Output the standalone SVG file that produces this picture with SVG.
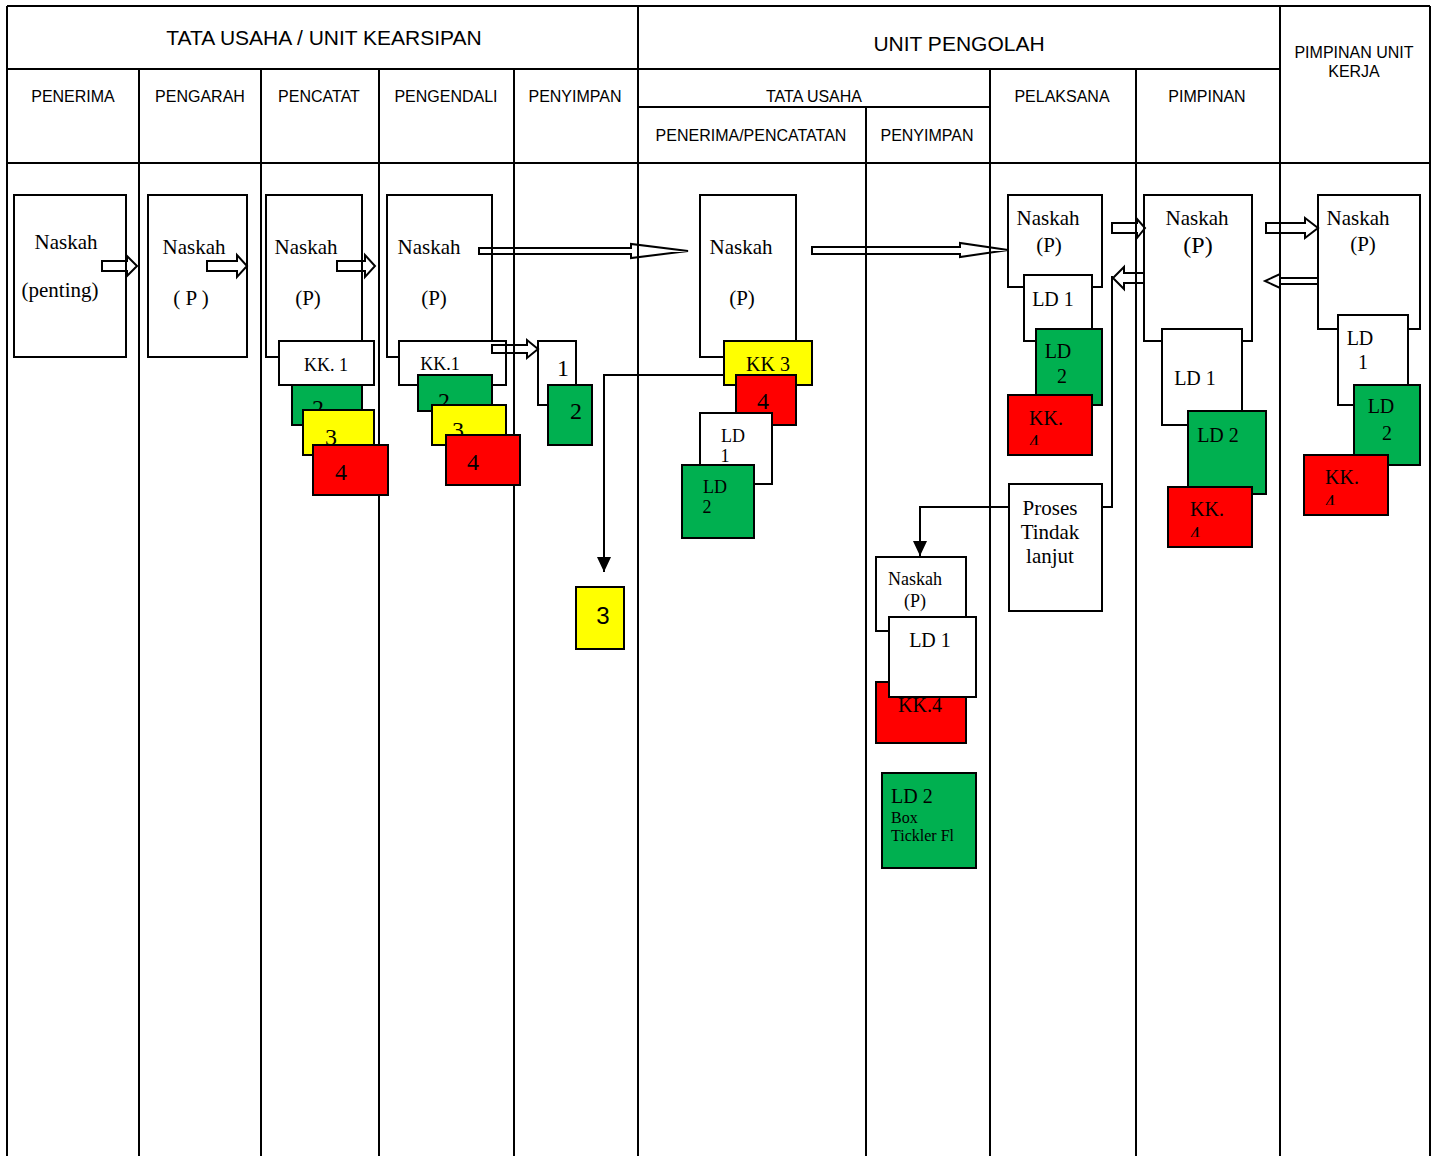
<svg xmlns="http://www.w3.org/2000/svg" width="1438" height="1156" viewBox="0 0 1438 1156">
<style>
.ln{stroke:#000;stroke-width:2;fill:none}
.bx{stroke:#000;stroke-width:2;fill:#fff}
.g{fill:#00B050}
.y{fill:#FFFF00}
.r{fill:#FF0000}
.ba{stroke:#000;stroke-width:2;fill:none;stroke-linejoin:miter}
.cn{stroke:#000;stroke-width:2;fill:none}
text{fill:#000}
.h1{font-family:"Liberation Sans",Arial,sans-serif;font-size:21px;text-anchor:middle}
.h2{font-family:"Liberation Sans",Arial,sans-serif;font-size:16px;text-anchor:middle}
.t{font-family:"Liberation Serif","Times New Roman",serif;font-size:21px;text-anchor:middle}
.tl{font-family:"Liberation Serif","Times New Roman",serif;font-size:20px;text-anchor:middle}
.ts{font-family:"Liberation Serif","Times New Roman",serif;font-size:18px;text-anchor:middle}
.tb{font-family:"Liberation Serif","Times New Roman",serif;font-size:24px;text-anchor:middle}
.st{text-anchor:start}
.sn{font-family:"Liberation Sans",Arial,sans-serif;font-size:24px;text-anchor:middle}
</style>
<defs>
<marker id="ah" markerUnits="userSpaceOnUse" markerWidth="16" markerHeight="14" refX="15" refY="7" orient="auto">
<path d="M0,0 L15,7 L0,14 z" fill="#000"/>
</marker>
<clipPath id="c4a"><rect x="1008" y="395" width="84" height="50"/></clipPath>
<clipPath id="c4b"><rect x="1168" y="487" width="84" height="50"/></clipPath>
<clipPath id="c4c"><rect x="1304" y="455" width="84" height="50"/></clipPath>
</defs>
<rect x="0" y="0" width="1438" height="1156" fill="#fff"/>
<g id="grid">
<path class="ln" d="M7,6 H1430 M7,69 H1280 M638,107 H990 M7,163 H1430 M7,6 V1156 M1430,6 V1156 M139,69 V1156 M261,69 V1156 M379,69 V1156 M514,69 V1156 M638,6 V1156 M866,107 V1156 M990,69 V1156 M1136,69 V1156 M1280,6 V1156"/>
<text class="h1" x="324" y="45">TATA USAHA / UNIT KEARSIPAN</text>
<text class="h1" x="959" y="51">UNIT PENGOLAH</text>
<text class="h2" x="1354" y="58">PIMPINAN UNIT</text>
<text class="h2" x="1354" y="77">KERJA</text>
<text class="h2" x="73" y="102">PENERIMA</text>
<text class="h2" x="200" y="102">PENGARAH</text>
<text class="h2" x="319" y="102">PENCATAT</text>
<text class="h2" x="446" y="102">PENGENDALI</text>
<text class="h2" x="575" y="102">PENYIMPAN</text>
<text class="h2" x="814" y="102">TATA USAHA</text>
<text class="h2" x="1062" y="102">PELAKSANA</text>
<text class="h2" x="1207" y="102">PIMPINAN</text>
<text class="h2" x="751" y="141">PENERIMA/PENCATATAN</text>
<text class="h2" x="927" y="141">PENYIMPAN</text>
</g>
<g id="n-penerima">
<rect class="bx" x="14" y="195" width="112" height="162"/>
<text class="t" x="66" y="249">Naskah</text>
<text class="t" x="60" y="297">(penting)</text>
</g>
<g id="n-pengarah">
<rect class="bx" x="148" y="195" width="99" height="162"/>
<text class="t" x="194" y="254">Naskah</text>
<text class="t" x="191" y="305">( P )</text>
</g>
<g id="n-pencatat">
<rect class="bx" x="266" y="195" width="96" height="162"/>
<text class="t" x="306" y="254">Naskah</text>
<text class="t" x="308" y="305">(P)</text>
<rect class="bx" x="279" y="341" width="95" height="44"/>
<text class="ts" x="326" y="371">KK. 1</text>
<rect class="bx g" x="292" y="385" width="70" height="40"/>
<text class="tb" x="318" y="416">2</text>
<rect class="bx y" x="303" y="410" width="71" height="45"/>
<text class="tb" x="331" y="445">3</text>
<rect class="bx r" x="313" y="445" width="75" height="50"/>
<text class="tb" x="341" y="480">4</text>
</g>
<g id="n-pengendali">
<rect class="bx" x="387" y="195" width="105" height="162"/>
<text class="t" x="429" y="254">Naskah</text>
<text class="t" x="434" y="305">(P)</text>
<rect class="bx" x="399" y="341" width="107" height="44"/>
<text class="ts" x="440" y="370">KK.1</text>
<rect class="bx g" x="418" y="375" width="74" height="36"/>
<text class="tb" x="444" y="409">2</text>
<rect class="bx y" x="432" y="405" width="74" height="40"/>
<text class="tb" x="458" y="438">3</text>
<rect class="bx r" x="446" y="435" width="74" height="50"/>
<text class="tb" x="473" y="470">4</text>
</g>
<g id="n-penyimpan">
<rect class="bx" x="538" y="341" width="38" height="64"/>
<text class="tb" x="563" y="376">1</text>
<rect class="bx g" x="548" y="385" width="44" height="60"/>
<text class="tb" x="576" y="419">2</text>
</g>
<g id="n-arsip-3">
<rect class="bx y" x="576" y="587" width="48" height="62"/>
<text class="sn" x="603" y="624">3</text>
</g>
<g id="n-tu-penerima">
<rect class="bx" x="700" y="195" width="96" height="162"/>
<text class="t" x="741" y="254">Naskah</text>
<text class="t" x="742" y="305">(P)</text>
<rect class="bx y" x="724" y="341" width="88" height="44"/>
<text class="tl" x="768" y="371">KK 3</text>
<rect class="bx r" x="736" y="375" width="60" height="50"/>
<text class="tb" x="763" y="409">4</text>
<rect class="bx" x="700" y="413" width="72" height="71"/>
<text class="ts" x="733" y="442">LD</text>
<text class="ts" x="725" y="462">1</text>
<rect class="bx g" x="682" y="465" width="72" height="73"/>
<text class="ts" x="715" y="493">LD</text>
<text class="ts" x="707" y="513">2</text>
</g>
<g id="n-tu-penyimpan">
<rect class="bx" x="876" y="557" width="90" height="74"/>
<text class="ts" x="915" y="585">Naskah</text>
<text class="ts" x="915" y="607">(P)</text>
<rect class="bx r" x="876" y="682" width="90" height="61"/>
<text class="tl" x="920" y="712">KK.4</text>
<rect class="bx" x="889" y="617" width="87" height="80"/>
<text class="tl" x="930" y="647">LD 1</text>
<rect class="bx g" x="882" y="773" width="94" height="95"/>
<text class="tl st" x="891" y="803">LD 2</text>
<text class="ts st" x="891" y="823" style="font-size:16px">Box</text>
<text class="ts st" x="891" y="841" style="font-size:16px">Tickler Fl</text>
</g>
<g id="n-pelaksana">
<rect class="bx" x="1008" y="195" width="94" height="92"/>
<text class="t" x="1048" y="225">Naskah</text>
<text class="t" x="1049" y="252">(P)</text>
<rect class="bx" x="1024" y="275" width="68" height="66"/>
<text class="tl" x="1053" y="306">LD 1</text>
<rect class="bx g" x="1036" y="329" width="66" height="76"/>
<text class="tl" x="1058" y="358">LD</text>
<text class="tl" x="1062" y="383">2</text>
<rect class="bx r" x="1008" y="395" width="84" height="60"/>
<text class="tl st" x="1029" y="425">KK.</text>
<text class="tl st" x="1029" y="449" clip-path="url(#c4a)">4</text>
</g>
<g id="n-proses">
<rect class="bx" x="1009" y="484" width="93" height="127"/>
<text class="t" x="1050" y="515">Proses</text>
<text class="t" x="1050" y="539">Tindak</text>
<text class="t" x="1050" y="563">lanjut</text>
</g>
<g id="n-pimpinan">
<rect class="bx" x="1144" y="195" width="108" height="146"/>
<text class="t" x="1197" y="225">Naskah</text>
<text class="tb" x="1198" y="253">(P)</text>
<rect class="bx" x="1162" y="329" width="80" height="96"/>
<text class="tl" x="1195" y="385">LD 1</text>
<rect class="bx g" x="1188" y="411" width="78" height="83"/>
<text class="tl" x="1218" y="442">LD 2</text>
<rect class="bx r" x="1168" y="487" width="84" height="60"/>
<text class="tl st" x="1190" y="516">KK.</text>
<text class="tl st" x="1190" y="541" clip-path="url(#c4b)">4</text>
</g>
<g id="n-pimpinan-unit">
<rect class="bx" x="1318" y="195" width="102" height="134"/>
<text class="t" x="1358" y="225">Naskah</text>
<text class="t" x="1363" y="251">(P)</text>
<rect class="bx" x="1338" y="315" width="70" height="90"/>
<text class="tl" x="1360" y="345">LD</text>
<text class="tl" x="1363" y="369">1</text>
<rect class="bx g" x="1354" y="385" width="66" height="80"/>
<text class="tl" x="1381" y="413">LD</text>
<text class="tl" x="1387" y="440">2</text>
<rect class="bx r" x="1304" y="455" width="84" height="60"/>
<text class="tl st" x="1325" y="484">KK.</text>
<text class="tl st" x="1325" y="509" clip-path="url(#c4c)">4</text>
</g>
<g id="connectors">
<polygon class="ba" points="102,261 127,261 127,256 137,266 127,276 127,271 102,271"/>
<polygon class="ba" points="207,261 237,261 237,255 247,266 237,277 237,271 207,271"/>
<polygon class="ba" points="337,261 365,261 365,255 375,266 365,277 365,271 337,271"/>
<polygon class="ba" points="479,248 631,248 631,244 688,251 631,258 631,254 479,254"/>
<polygon class="ba" points="492,345 527,345 527,340 538,349 527,358 527,353 492,353"/>
<polygon class="ba" points="812,247 960,247 960,243 1008,250 960,257 960,254 812,254"/>
<polygon class="ba" points="1112,223 1137,223 1137,219 1145,228 1137,238 1137,233 1112,233"/>
<polygon class="ba" points="1144,273 1124,273 1124,267 1113,278 1124,289 1124,283 1144,283"/>
<polygon class="ba" points="1266,223 1305,223 1305,218 1318,228 1305,238 1305,233 1266,233"/>
<polygon class="ba" points="1318,278 1280,278 1280,274 1265,281 1280,288 1280,284 1318,284"/>
<polyline class="cn" points="724,375 604,375 604,572" marker-end="url(#ah)"/>
<polyline class="cn" points="1009,507 920,507 920,556" marker-end="url(#ah)"/>
<polyline class="cn" points="1102,507 1112,507 1112,276"/>
</g>
</svg>
